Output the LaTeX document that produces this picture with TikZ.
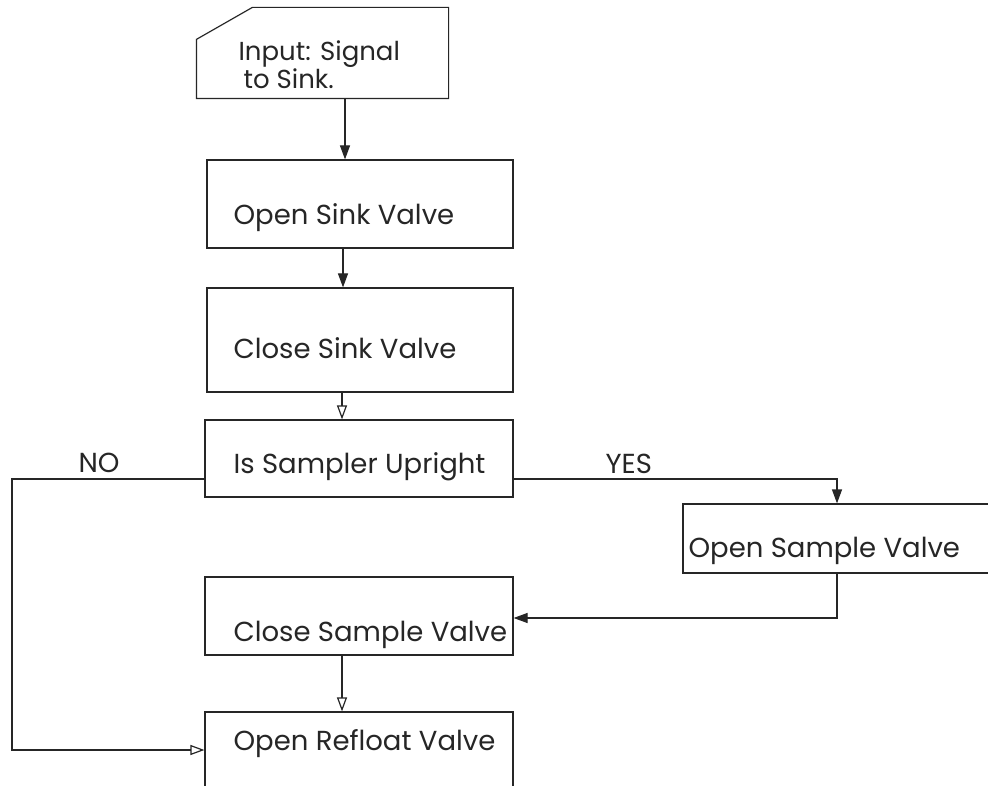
\documentclass[tikz,border=0pt]{standalone}
\usepackage{fontspec}
\setmainfont{Poppins}
\usetikzlibrary{arrows.meta,calc}
\begin{document}
\begin{tikzpicture}[x=1pt,y=-1pt,
  line width=1.2pt, draw=black!85,
  box/.style={draw=black!85, line width=1.2pt, rectangle, inner sep=0pt},
  lbl/.style={anchor=base west, inner sep=0pt, font=\fontsize{27.5}{32}\selectfont, text=black!85},
  smalllbl/.style={lbl, font=\fontsize{26}{30}\selectfont},
  fillarrow/.style={-{Triangle[length=14pt,width=10pt]}},
  openarrow/.style={-{Triangle[open,length=14pt,width=10pt,fill=white]}}
]
\useasboundingbox (0,0) rectangle (988,786);
\clip (0,0) rectangle (988,786);
\fill[white] (0,0) rectangle (988,786);

% input (card) shape
\node[inner sep=0pt, minimum width=251pt, minimum height=90pt] (in) at (322.5,53) {};
\draw[line width=1.2pt, draw=black!85] ($(in.north west)+(56,0)$) -- (in.north east) -- (in.south east) -- (in.south west) -- ($(in.north west)+(0,32)$) -- cycle;
\node[smalllbl] (tin1) at (238,61) {Input: Signal};
\node[smalllbl] (tin2) at (243,89) {to Sink.};

% boxes
\node[box, minimum width=306pt, minimum height=88pt] (osk) at (360,204) {};
\node[box, minimum width=306pt, minimum height=104pt] (csk) at (360,340) {};
\node[box, minimum width=308pt, minimum height=77pt] (isu) at (359,458.5) {};
\node[box, minimum width=327pt, minimum height=69pt] (osa) at (846.5,538.5) {};
\node[box, minimum width=308pt, minimum height=78pt] (csa) at (359,616) {};
\node[box, minimum width=308pt, minimum height=98pt] (orf) at (359,761) {};

\node[lbl] (tosk) at (233,225) {Open Sink Valve};
\node[lbl] (tcsk) at (233,358) {Close Sink Valve};
\node[lbl] (tisu) at (233,473) {Is Sampler Upright};
\node[lbl] (tosa) at (688,557) {Open Sample Valve};
\node[lbl] (tcsa) at (233,641) {Close Sample Valve};
\node[lbl] (torf) at (233,750) {Open Refloat Valve};
\node[lbl] (tno) at (78,472) {NO};
\node[lbl] (tyes) at (605,473) {YES};

% connector guide coordinates
\coordinate (x1) at (345,0);
\coordinate (x2) at (343,0);
\coordinate (x3) at (342,0);
\coordinate (xr) at (837,0);
\coordinate (xl) at (12,0);
\coordinate (yb) at (0,479);
\coordinate (yn) at (0,750);
\coordinate (ys) at (0,618);

\draw[fillarrow] (in.south -| x1) -- (osk.north -| x1);
\draw[fillarrow] (osk.south -| x2) -- (csk.north -| x2);
\draw[openarrow] (csk.south -| x3) -- (isu.north -| x3);
\draw[fillarrow] (isu.east |- yb) -| (osa.north -| xr);
\draw[openarrow] (isu.west |- yb) -- (xl |- yb) -- (xl |- yn) -- (orf.west |- yn);
\draw[fillarrow] (osa.south -| xr) |- (csa.east |- ys);
\draw[openarrow] (csa.south -| x3) -- (orf.north -| x3);
\end{tikzpicture}
\end{document}
